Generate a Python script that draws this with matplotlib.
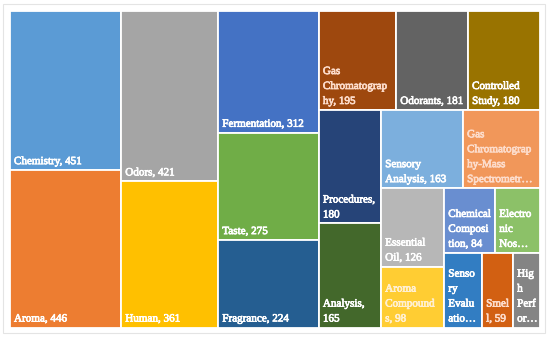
import matplotlib
matplotlib.use("Agg")
import matplotlib.pyplot as plt
from matplotlib.patches import Rectangle
import matplotlib.patheffects as pe

# ---- data ----
categories = ["Chemistry", "Aroma", "Odors", "Human", "Fermentation", "Taste",
              "Fragrance", "Gas Chromatography", "Odorants", "Controlled Study",
              "Procedures", "Analysis", "Sensory Analysis",
              "Gas Chromatography-Mass Spectrometry", "Essential Oil",
              "Aroma Compounds", "Chemical Composition", "Electronic Nose",
              "Sensory Evaluation", "Smell", "High Performance Liquid Chromatography"]
values = [451, 446, 421, 361, 312, 275, 224, 195, 181, 180, 180, 165, 163,
          152, 126, 98, 84, 73, 72, 59, 50]
# label templates as wrapped in the reference ({} = value)
label_templates = ["Chemistry, {}", "Aroma, {}", "Odors, {}", "Human, {}",
                   "Fermentation, {}", "Taste, {}", "Fragrance, {}",
                   "Gas\nChromatograp\nhy, {}", "Odorants, {}",
                   "Controlled\nStudy, {}", "Procedures,\n{}", "Analysis,\n{}",
                   "Sensory\nAnalysis, {}",
                   "Gas\nChromatograp\nhy-Mass\nSpectrometr\u2026",
                   "Essential\nOil, {}", "Aroma\nCompound\ns, {}",
                   "Chemical\nComposi\ntion, {}", "Electro\nnic\nNos\u2026",
                   "Senso\nry\nEvalu\natio\u2026", "Smel\nl, {}",
                   "Hig\nh\nPerf\nor\u2026"]
colors = ["#5B9BD5", "#ED7D31", "#A5A5A5", "#FFC000", "#4472C4", "#70AD47",
          "#255E91", "#9E480E", "#636363", "#997300", "#264478", "#43682B",
          "#7CAFDD", "#F1975A", "#B7B7B7", "#FFCD33", "#698ED0", "#8CC168",
          "#327DC2", "#D26012", "#848484"]
text_colors = ["white"] * len(values)
for k in (7, 13, 19):
    text_colors[k] = "#FDDCCB"
text_colors[15] = "#FFF0D2"

# strip structure of the treemap: (number of items, 'v' = column, 'h' = row)
strips = [(2, 'v'), (2, 'v'), (3, 'v'), (3, 'h'), (2, 'v'), (2, 'h'),
          (2, 'v'), (2, 'h'), (3, 'h')]

W, H = 529.0, 316.0


def layout(vals, strips, W, H):
    scale = W * H / sum(vals)
    x, y, w, h = 0.0, 0.0, W, H
    rects = []
    i = 0
    for n, orient in strips:
        grp = vals[i:i + n]
        s = sum(grp)
        if orient == 'v':
            cw = s * scale / h
            yy = y
            for v in grp:
                rh = v * scale / cw
                rects.append((x, yy, cw, rh))
                yy += rh
            x += cw
            w -= cw
        else:
            rh = s * scale / w
            xx = x
            for v in grp:
                rw = v * scale / rh
                rects.append((xx, y, rw, rh))
                xx += rw
            y += rh
            h -= rh
        i += n
    return rects


fig = plt.figure(figsize=(5.5, 3.39), dpi=100)
fig.patch.set_facecolor("white")
# light chart border
fig.add_artist(Rectangle((3 / 550, 1 - 333 / 339), 542 / 550, 329 / 339,
                         transform=fig.transFigure, fill=False,
                         edgecolor="#E4E4E4", lw=0.8))

ax = fig.add_axes([10 / 550, 1 - 327.5 / 339, 529.5 / 550, 316.5 / 339])
ax.set_xlim(0, W)
ax.set_ylim(H, 0)
ax.axis("off")

rects = layout(values, strips, W, H)
for (x, y, w, h), col, tpl, v, tc in zip(rects, colors, label_templates,
                                         values, text_colors):
    ax.add_patch(Rectangle((x, y), w, h, facecolor=col, edgecolor="white",
                           lw=1.3))
    t = ax.annotate(tpl.format(v), xy=(x, y + h), xytext=(4, 4),
                    textcoords="offset pixels", ha="left", va="bottom",
                    fontsize=8, family="Liberation Serif",
                    color=tc, linespacing=1.85)
    t.set_path_effects([pe.withStroke(linewidth=0.5, foreground=tc)])

fig.savefig("out.png", dpi=100, facecolor="white")
